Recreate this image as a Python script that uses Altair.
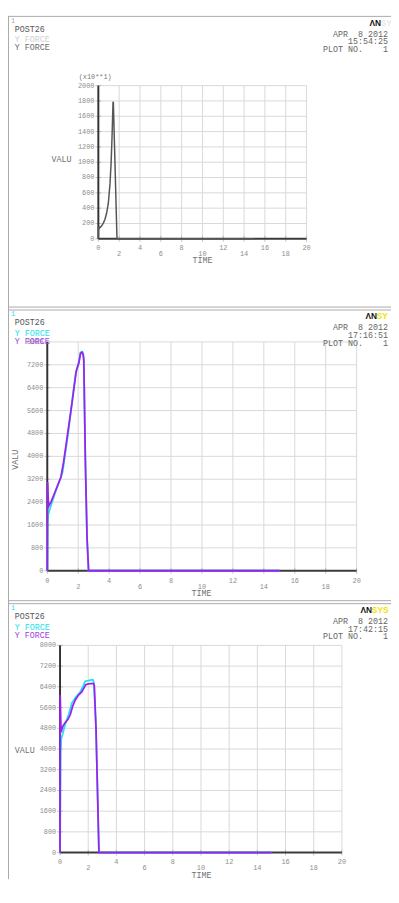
import altair as alt
import pandas as pd

FONT = "Liberation Mono"
CYAN = "#22e2ec"
PURPLE = "#9b22ee"
GRID = "#d8d8d8"
LABEL = "#8e8e8e"

# ---------------- data ----------------
# Panel 1 : Y FORCE (x10**1)
t1 = [0, 0.02, 0.1, 0.32, 0.48, 0.64, 0.8, 0.96, 1.12, 1.22, 1.31, 1.41, 1.44, 1.79, 15]
v1 = [0, 165, 140, 170, 205, 255, 340, 465, 720, 975, 1310, 1780, 1790, 0, 0]

# Panel 2
t2c = [0, 0.02, 0.06, 0.15, 0.32, 0.57, 0.99, 1.2, 1.41, 1.62, 1.83, 2.04, 2.15, 2.25, 2.32, 2.36, 2.46, 2.57, 2.67, 15]
v2c = [0, 1620, 1960, 2130, 2415, 2815, 3440, 4240, 5040, 6005, 6860, 7316, 7635, 7660, 7600, 7400, 3900, 1160, 0, 0]
t2p = [0, 0.02, 0.08, 0.25, 0.46, 0.67, 0.88, 1.05, 1.2, 1.41, 1.62, 1.87, 2.04, 2.15, 2.25, 2.32, 2.36, 2.46, 2.57, 2.67, 15]
v2p = [0, 3100, 2245, 2415, 2700, 2985, 3270, 3785, 4350, 5150, 5950, 6975, 7260, 7600, 7635, 7550, 7370, 3900, 1160, 0, 0]

# Panel 3
t3c = [0, 0.02, 0.05, 0.09, 0.19, 0.37, 0.61, 0.84, 1.08, 1.43, 1.66, 1.78, 2.01, 2.32, 2.4, 2.55, 2.67, 2.76, 15]
v3c = [0, 1345, 3840, 4400, 4585, 4960, 5330, 5770, 5980, 6200, 6450, 6615, 6640, 6680, 6580, 4830, 2090, 0, 0]
t3p = [0, 0.01, 0.07, 0.14, 0.21, 0.37, 0.56, 0.73, 0.89, 1.08, 1.31, 1.54, 1.73, 1.82, 2.01, 2.36, 2.43, 2.55, 2.67, 2.76, 15]
v3p = [0, 6080, 4650, 4770, 4895, 5020, 5145, 5330, 5640, 5890, 6080, 6200, 6390, 6480, 6515, 6530, 6450, 4830, 2090, 0, 0]

x_ticks = list(range(0, 21, 2))
x_ticks_upper = [0, 4, 8, 12, 16, 20]
x_ticks_lower = [2, 6, 10, 14, 18]
y1_ticks = list(range(0, 2001, 200))
y23_ticks = list(range(0, 8001, 800))

times = ["15:54:25", "17:16:51", "17:42:15"]
DATE = "APR\u00a0\u00a08 2012"
PLOTNO = "PLOT NO.\u00a0\u00a0\u00a0\u00a01"

W, H = 390, 879
ONE = pd.DataFrame({"a": [0]})


def frame(t, v):
    return pd.DataFrame({"t": t, "v": v, "i": list(range(len(t)))})


def text(txt, x, y, color, size=8.5, align="left", weight="normal", font=FONT, angle=0):
    props = dict(align=align, baseline="middle", font=font, fontSize=size,
                 fontWeight=weight, color=color)
    if angle:
        props["angle"] = angle
    return alt.Chart(ONE).mark_text(**props).encode(
        x=alt.value(x), y=alt.value(y), text=alt.value(txt))


def hrule(x0, x1, y, color="#a8a8a8"):
    return alt.Chart(ONE).mark_rule(color=color, strokeWidth=1).encode(
        x=alt.value(x0), x2=alt.value(x1), y=alt.value(y))


def vrule(x, y0, y1, color="#a8a8a8"):
    return alt.Chart(ONE).mark_rule(color=color, strokeWidth=1).encode(
        x=alt.value(x), y=alt.value(y0), y2=alt.value(y1))


def panel(series, yticks, ymax, xrange, yrange, row_dy):
    xs = alt.Scale(domain=[0, 20], range=xrange, nice=False, zero=False)
    ys = alt.Scale(domain=[0, ymax], range=yrange, nice=False, zero=False)
    gx = pd.DataFrame({"g": x_ticks})
    gy = pd.DataFrame({"g": yticks})
    vgrid = alt.Chart(gx).mark_rule(color=GRID, strokeWidth=1).encode(
        x=alt.X("g:Q", scale=xs, axis=None),
        y=alt.YDatum(0, scale=ys, axis=None),
        y2=alt.Y2Datum(ymax))
    hgrid = alt.Chart(gy).mark_rule(color=GRID, strokeWidth=1).encode(
        y=alt.Y("g:Q", scale=ys, axis=None),
        x=alt.XDatum(0, scale=xs, axis=None),
        x2=alt.X2Datum(20))
    xtick = alt.Chart(gx).mark_tick(color="#aaaaaa", thickness=1, size=6, orient="vertical").encode(
        x=alt.X("g:Q", scale=xs, axis=None),
        y=alt.YDatum(0, scale=ys, axis=None))
    ytick = alt.Chart(gy).mark_tick(color="#aaaaaa", thickness=1, size=6, orient="horizontal").encode(
        y=alt.Y("g:Q", scale=ys, axis=None),
        x=alt.XDatum(0, scale=xs, axis=None))
    xdom = alt.Chart(ONE).mark_rule(color="#3c3c3c", strokeWidth=2).encode(
        x=alt.XDatum(0, scale=xs, axis=None), x2=alt.X2Datum(20),
        y=alt.YDatum(0, scale=ys, axis=None))
    ydom = alt.Chart(ONE).mark_rule(color="#333333", strokeWidth=2).encode(
        y=alt.YDatum(0, scale=ys, axis=None), y2=alt.Y2Datum(ymax),
        x=alt.XDatum(0, scale=xs, axis=None))
    ylab = alt.Chart(gy).mark_text(font=FONT, fontSize=7, color=LABEL, align="right",
                                   baseline="middle", dx=-4).encode(
        y=alt.Y("g:Q", scale=ys, axis=None),
        x=alt.XDatum(0, scale=xs, axis=None),
        text=alt.Text("g:Q", format="d"))
    xlab_u = alt.Chart(pd.DataFrame({"g": x_ticks_upper})).mark_text(
        font=FONT, fontSize=7, color=LABEL, align="center", baseline="middle",
        dy=row_dy[0]).encode(
        x=alt.X("g:Q", scale=xs, axis=None),
        y=alt.YDatum(0, scale=ys, axis=None),
        text=alt.Text("g:Q", format="d"))
    xlab_l = alt.Chart(pd.DataFrame({"g": x_ticks_lower})).mark_text(
        font=FONT, fontSize=7, color=LABEL, align="center", baseline="middle",
        dy=row_dy[1]).encode(
        x=alt.X("g:Q", scale=xs, axis=None),
        y=alt.YDatum(0, scale=ys, axis=None),
        text=alt.Text("g:Q", format="d"))
    lines = []
    for df, color, width in series:
        lines.append(alt.Chart(df).mark_line(color=color, strokeWidth=width).encode(
            x=alt.X("t:Q", scale=xs, axis=None),
            y=alt.Y("v:Q", scale=ys, axis=None),
            order="i:Q"))
    return alt.layer(vgrid, hgrid, xtick, ytick, xdom, ydom, *lines, ylab, xlab_u, xlab_l)


def header(T, num_color, yf1, yf2, time, an_x, sy_txt, sy_color):
    return [
        text("1", 3, T + 5, num_color, size=7),
        text("POST26", 7, T + 13, "#555555"),
        text("Y FORCE", 7, T + 24, yf1),
        text("Y FORCE", 7, T + 32, yf2),
        text("\u039bN", an_x, T + 7, "#111111", size=8.5, weight="bold", font="Liberation Sans"),
        text(sy_txt, an_x + 11.5, T + 7, sy_color, size=8.5, weight="bold", font="Liberation Sans"),
        text(DATE, 387, T + 18, "#666666", align="right"),
        text(time, 387, T + 26, "#666666", align="right"),
        text(PLOTNO, 387, T + 34, "#666666", align="right"),
    ]


p1 = panel([(frame(t1, v1), "#555555", 1.5)], y1_ticks, 2000, [92, 304], [227, 71], (9.5, 15.5))
p2 = panel([(frame(t2c, v2c), CYAN, 1.8), (frame(t2p, v2p), PURPLE, 1.8)],
           y23_ticks, 8000, [40, 355], [565, 332], (10, 17))
p3 = panel([(frame(t3c, v3c), CYAN, 1.8), (frame(t3p, v3p), PURPLE, 1.8)],
           y23_ticks, 8000, [53, 340], [852, 641], (9.5, 16))

decor = [
    vrule(0.5, 0, H),
    hrule(0, W, 0.5), hrule(0, W, 296.5),
    hrule(0, W, 299.5), hrule(0, W, 595.5),
    hrule(0, W, 598.5),
    *header(0, "#aaaaaa", "#d0d0d0", "#6a6a6a", times[0], 368, "SY", "#e8e8e8"),
    *header(299, CYAN, CYAN, "#a040e0", times[1], 364, "SY", "#f2e200"),
    *header(598, CYAN, CYAN, "#a040e0", times[2], 359, "SYS", "#f2e200"),
    text("(x10**1)", 72, 62, "#777777", size=7),
    text("VALU", 54.5, 146, "#707070", align="center"),
    text("TIME", 198, 249, "#707070", align="center"),
    text("VALU", 7, 452, "#707070", align="center", angle=270),
    text("TIME", 197, 588, "#707070", align="center"),
    text("VALU", 17, 748, "#707070", align="center"),
    text("TIME", 197, 875, "#707070", align="center"),
]

chart = alt.layer(p1, p2, p3, *decor).resolve_scale(
    x="independent", y="independent"
).properties(
    width=W, height=H, padding=0, background="white",
    autosize=alt.AutoSizeParams(type="none"),
).configure_view(stroke=None)

chart.save("out.html", embed_options={"renderer": "svg", "actions": False})
